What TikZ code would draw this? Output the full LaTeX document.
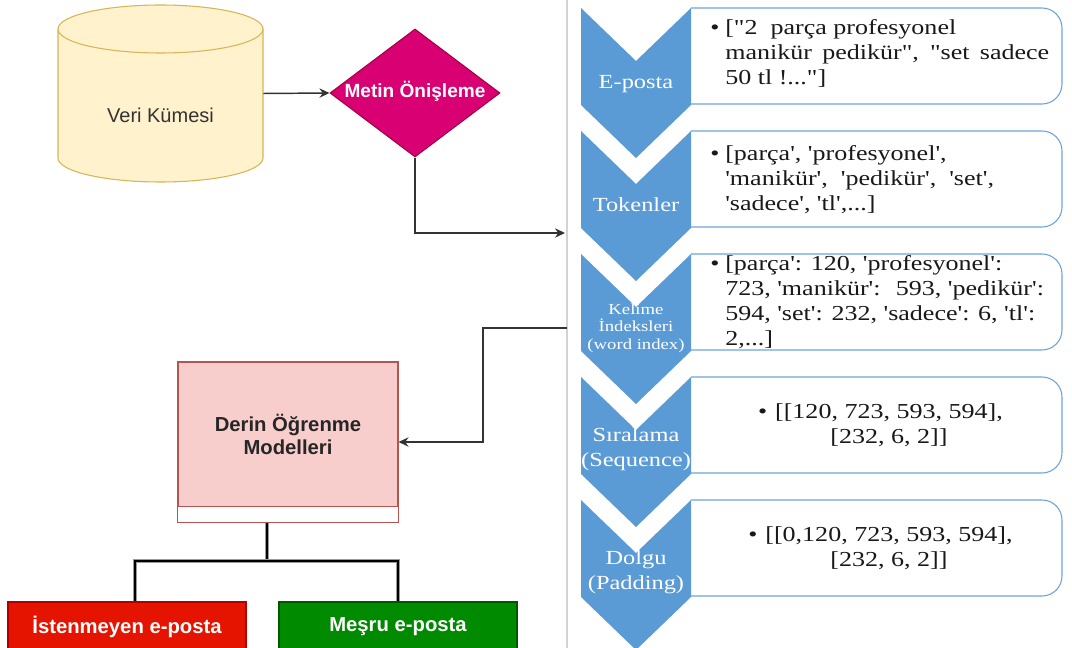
\documentclass[tikz,border=0pt]{standalone}
\usepackage{fontspec}
\usetikzlibrary{shapes.geometric,arrows.meta,calc}
\newfontfamily\arialf{Liberation Sans}
\newfontfamily\tnr[FakeStretch=1.22]{Liberation Serif}
\definecolor{chev}{HTML}{5B9BD5}
\definecolor{boxline}{HTML}{6FA3DA}
\definecolor{cylfill}{HTML}{FFF2CC}
\definecolor{cylline}{HTML}{D6B656}
\definecolor{diafill}{HTML}{D80073}
\definecolor{dialine}{HTML}{A50040}
\definecolor{dlfill}{HTML}{F8CECC}
\definecolor{dlline}{HTML}{B85450}
\definecolor{spamfill}{HTML}{E51400}
\definecolor{spamline}{HTML}{B20000}
\definecolor{hamfill}{HTML}{008A00}
\definecolor{hamline}{HTML}{005700}
\definecolor{divider}{HTML}{D3D3D3}
\begin{document}
\begin{tikzpicture}[x=0.75pt,y=-0.75pt,
  conn/.style={draw=black!80, line width=1.1pt, -{Stealth[length=7.5pt,width=7pt,inset=2.5pt]}},
  tree/.style={draw=black, line width=1.8pt, preaction={draw=black!40, line width=2.8pt}},
  sanstxt/.style={font=\arialf\fontsize{15}{17.25}\selectfont, inner sep=0pt, align=center},
  boxtxt/.style={font=\tnr\fontsize{16}{18.75}\selectfont, inner sep=0pt, text=black!90},
  chevtxt/.style={font=\tnr\fontsize{15}{18.75}\selectfont, text=white, align=center, inner sep=0pt},
  smallchev/.style={font=\tnr\fontsize{11.5}{13.1}\selectfont, text=white, align=center, inner sep=0pt},
  infobox/.style={draw=boxline, line width=0.8pt, fill=white, rounded corners=15pt},
  chevshape/.style={fill=chev},
  outbox/.style={minimum width=178.5pt, minimum height=37.5pt, inner sep=0pt, line width=0.8pt,
     font=\arialf\bfseries\fontsize{15.2}{17}\selectfont, text=white}
]
\useasboundingbox (0,0) rectangle (1072,648);
\clip (0,0) rectangle (1072,648);
\fill[white] (0,0) rectangle (1072,648);

% divider
\draw[divider, line width=1.1pt] (567,0) -- (567,648);

% ---------- left side ----------
% cylinder
\filldraw[fill=cylfill, draw=cylline, line width=0.8pt]
  (58,29) -- (58,158)
  .. controls (58,171.25) and (103.9,182) .. (160.5,182)
  .. controls (217.1,182) and (263,171.25) .. (263,158)
  -- (263,29) -- cycle;
\filldraw[fill=cylfill, draw=cylline, line width=0.8pt] (160.5,29) ellipse [x radius=102.5, y radius=24];
\node[rectangle, minimum width=153.75pt, minimum height=132.75pt, inner sep=0pt] (veri) at (160.5,93.5) {};
\node[sanstxt, text=black!80] (veritxt) at (160.5,115) {Veri Kümesi};

% diamond
\node[diamond, minimum width=127.5pt, minimum height=96pt, inner sep=0pt, fill=diafill, draw=dialine, line width=0.8pt] (metin) at (415,93) {};
\node[sanstxt, font=\arialf\bfseries\fontsize{14.3}{16}\selectfont, text=white] (metintxt) at (415,91) {Metin Önişleme};

\draw[conn] (veri.east) -- (metin.west);

\coordinate (pin) at (565,233);
\draw[conn] (metin.south) |- (pin);

% deep learning box
\node[rectangle, minimum width=165pt, minimum height=120pt, inner sep=0pt, fill=dlfill, draw=dlline, line width=0.8pt] (derin) at (288,442) {};
\draw[fill=white, draw=dlline, line width=0.8pt] (derin.south west) rectangle ($(derin.south east)+(0,-16)$);
\node[sanstxt, font=\arialf\bfseries\fontsize{15.2}{17.25}\selectfont, text=black!85] (derintxt) at (288,434) {Derin Öğrenme\\Modelleri};

\coordinate (pout) at (567,328);
\coordinate (bend) at (483,328);
\draw[conn] (pout) -- (bend) |- (derin.east);

% outputs
\node[outbox, fill=spamfill, draw=spamline] (spam) at (127,627) {İstenmeyen e-posta};
\node[outbox, fill=hamfill, draw=hamline] (ham) at (398,627) {Meşru e-posta};

\coordinate (split) at (267,561);
\coordinate (sl) at (135,561);
\coordinate (sr) at (398,561);
\draw[tree] (derin.south -| split) -- (split);
\draw[tree] (sl |- spam.north) -- (sl) -- (sr) -- (ham.north);

% ---------- right side: chevron list ----------
\foreach \t in {8,131,254,377,500}{
  \draw[infobox] (691,\t) -- (1062,\t) -- (1062,\t+96) -- (691,\t+96);
}
\foreach \t in {8,131,254,377,500}{
  \fill[chevshape] (581,\t) -- (636,\t+53) -- (691,\t) -- (691,\t+97) -- (636,\t+150) -- (581,\t+97) -- cycle;
}

\node[chevtxt] (c1) at (636,84) {E-posta};
\node[chevtxt] (c2) at (636,205) {Tokenler};
\node[smallchev] (c3) at (636,328) {Kelime\\İndeksleri\\(word index)};
\node[chevtxt] (c4) at (636,449) {Sıralama\\(Sequence)};
\node[chevtxt] (c5) at (636,572) {Dolgu\\(Padding)};

\node[boxtxt, anchor=base west] (t1) at (710,35)
  {\makebox[11.25pt][l]{•}\parbox[t]{243pt}{["2~ parça profesyonel\\{}manikür pedikür", "set sadece\linebreak 50 tl !..."]}};
\node[boxtxt, anchor=base west] (t2) at (710,161)
  {\makebox[11.25pt][l]{•}\parbox[t]{243pt}{[parça', 'profesyonel',\\{}'manikür',~ 'pedikür',~ 'set',\\{}'sadece', 'tl',...]}};
\node[boxtxt, anchor=base west] (t3) at (710,271)
  {\makebox[11.25pt][l]{•}\parbox[t]{243pt}{[parça': 120, 'profesyonel':\\{}723, 'manikür':~ 593, 'pedikür':\\{}594, 'set': 232, 'sadece': 6, 'tl':\\{}2,...]}};
\node[boxtxt, align=center] (t4) at (889,425)
  {\makebox[0pt][r]{•\hspace{6pt}}[[120, 723, 593, 594],\\{}[232, 6, 2]]};
\node[boxtxt, align=center] (t5) at (889,548)
  {\makebox[0pt][r]{•\hspace{6pt}}[[0,120, 723, 593, 594],\\{}[232, 6, 2]]};
\end{tikzpicture}
\end{document}
